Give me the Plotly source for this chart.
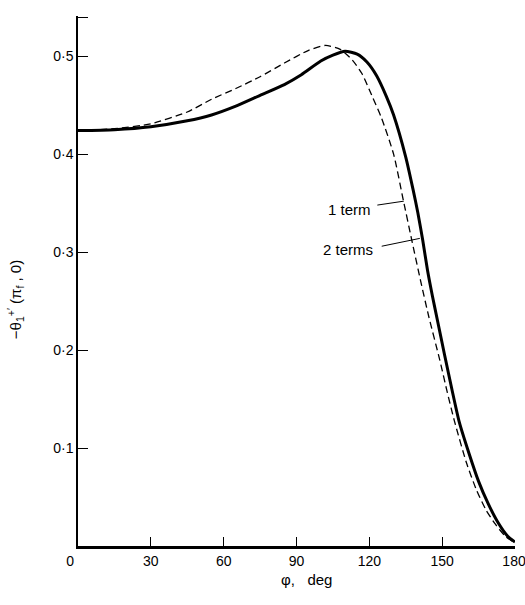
import plotly.graph_objects as go

# ---- data ----
phi_two = [0, 15, 30, 45, 55, 65, 75, 85, 92, 100, 105, 110, 115, 119, 123, 127, 130,
           135, 138, 140, 142, 144, 146, 148, 151, 154, 157, 161, 165, 169, 173, 177, 180]
val_two = [0.424, 0.425, 0.428, 0.434, 0.440, 0.449, 0.460, 0.471, 0.481, 0.495, 0.501,
           0.505, 0.502, 0.494, 0.480, 0.459, 0.440, 0.397, 0.364, 0.340, 0.312, 0.281,
           0.255, 0.231, 0.195, 0.160, 0.127, 0.095, 0.066, 0.043, 0.024, 0.010, 0.004]

phi_one = [0, 15, 30, 45, 55, 65, 75, 85, 95, 102, 108, 113, 117, 121, 125, 130, 134,
           137.5, 141, 144.5, 149, 152, 155, 160, 164, 168, 172, 176, 180]
val_one = [0.424, 0.426, 0.431, 0.443, 0.456, 0.467, 0.479, 0.493, 0.506, 0.511, 0.507,
           0.496, 0.482, 0.460, 0.437, 0.400, 0.353, 0.312, 0.272, 0.234, 0.190, 0.158,
           0.128, 0.085, 0.058, 0.037, 0.022, 0.010, 0.003]

x_ticks = [0, 30, 60, 90, 120, 150, 179.6]
x_tick_text = ["0\u2007\u2007", "30", "60", "90", "120", "150", "180"]
y_ticks = [0.1, 0.2, 0.3, 0.4, 0.5, 0.5395]
y_tick_text = ["0·1", "0·2", "0·3", "0·4", "0·5", ""]

label_one = "1 term"
label_two = "2 terms"

FONT = "Liberation Sans"

fig = go.Figure()
fig.add_trace(go.Scatter(x=phi_one, y=val_one, mode="lines", name=label_one,
                         line=dict(color="black", width=1.3, dash="7px,4px",
                                   shape="spline", smoothing=0.6),
                         showlegend=False, cliponaxis=False, hoverinfo="skip"))
fig.add_trace(go.Scatter(x=phi_two, y=val_two, mode="lines", name=label_two,
                         line=dict(color="black", width=3, shape="spline", smoothing=0.6),
                         showlegend=False, cliponaxis=False, hoverinfo="skip"))

# labels with leader lines
fig.add_annotation(x=121.5, y=0.343, text=label_one, showarrow=False, xanchor="right",
                   yanchor="middle", font=dict(family=FONT, size=15, color="black"))
fig.add_annotation(x=122.5, y=0.303, text=label_two, showarrow=False, xanchor="right",
                   yanchor="middle", font=dict(family=FONT, size=15, color="black"))
fig.add_shape(type="line", x0=123.3, y0=0.348, x1=134.2, y1=0.352,
              line=dict(color="black", width=1))
fig.add_shape(type="line", x0=125.1, y0=0.306, x1=140.8, y1=0.314,
              line=dict(color="black", width=1))

# axis titles
fig.add_annotation(xref="paper", yref="paper", x=-0.144, y=0.464,
                   text="−θ<sub>1</sub><sup>+′</sup> (π<sub>f</sub> , 0)",
                   textangle=-90, showarrow=False, xanchor="center", yanchor="middle",
                   font=dict(family=FONT, size=15, color="black"))
fig.add_annotation(xref="paper", yref="paper", x=0.522, y=-0.064,
                   text="φ,   deg", showarrow=False, xanchor="center", yanchor="middle",
                   font=dict(family=FONT, size=15, color="black"))

fig.update_xaxes(range=[0, 180], tickvals=x_ticks, ticktext=x_tick_text,
                 ticks="inside", ticklen=9, tickwidth=1.3, tickcolor="black",
                 showline=True, linecolor="black", linewidth=2.5, showgrid=False,
                 zeroline=False, automargin=False, ticklabeloverflow="allow",
                 tickfont=dict(family=FONT, size=14, color="black"))
fig.update_yaxes(range=[0, 0.541], tickvals=y_ticks, ticktext=y_tick_text,
                 ticks="inside", ticklen=10, tickwidth=1.3, tickcolor="black",
                 showline=True, linecolor="black", linewidth=1.5, showgrid=False,
                 zeroline=False, automargin=False, ticklabeloverflow="allow",
                 tickfont=dict(family=FONT, size=14, color="black"))

fig.update_layout(width=525, height=605, margin=dict(l=78, r=10, t=16, b=59),
                  plot_bgcolor="white", paper_bgcolor="white", showlegend=False,
                  hovermode=False)

fig.write_html("out.html", config={"displayModeBar": False},
               post_script="document.body.style.margin='0';"
                           "document.body.style.overflow='hidden';")
